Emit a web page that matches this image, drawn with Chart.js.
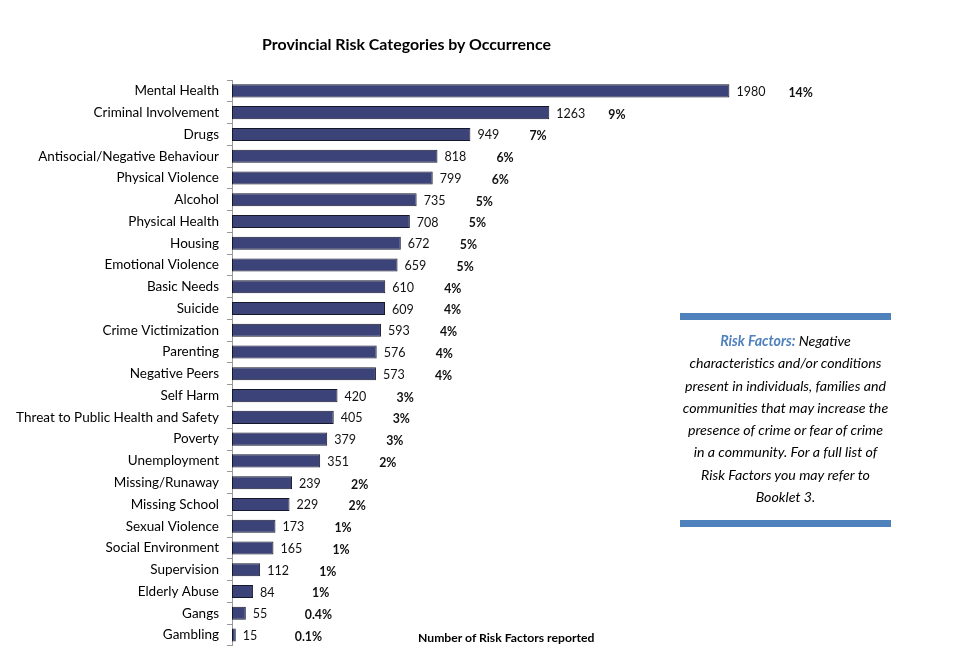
<!DOCTYPE html>
<html>
<head>
<meta charset="utf-8">
<script src="https://cdn.jsdelivr.net/npm/chart.js@4"></script>
<style>
  html, body { margin: 0; padding: 0; background: #fff; }
  #wrap { position: relative; width: 973px; height: 662px; overflow: hidden; }
  #title { position: absolute; left: 0; width: 813px; top: 34px; text-align: center;
           font: bold 15.9px Lato, sans-serif; color: #000; }
  #xtitle { position: absolute; left: 418px; top: 630px; font: bold 12.2px Lato, sans-serif; color: #000; white-space: nowrap; }
  #note { position: absolute; left: 680px; top: 313px; width: 211px; }
  #note .bar { height: 7px; background: #4f81bd; }
  #note .txt { text-align: center; font: italic 14.2px Lato, sans-serif; line-height: 22.3px; color: #000;
               padding-top: 10px; padding-bottom: 12px; white-space: nowrap; margin-left: -10px; margin-right: -10px; }
  #note .txt b { color: #4f81bd; font-weight: bold; }
</style>
</head>
<body>
<div id="wrap">
  <canvas id="c" width="973" height="662"></canvas>
  <div id="title">Provincial Risk Categories by Occurrence</div>
  <div id="xtitle">Number of Risk Factors reported</div>
  <div id="note">
    <div class="bar"></div>
    <div class="txt"><b>Risk Factors:</b> Negative<br>characteristics and/or conditions<br>present in individuals, families and<br>communities that may increase the<br>presence of crime or fear of crime<br>in a community. For a full list of<br>Risk Factors you may refer to<br>Booklet 3.</div>
    <div class="bar"></div>
  </div>
</div>
<script>
const categories = ["Mental Health","Criminal Involvement","Drugs","Antisocial/Negative Behaviour","Physical Violence","Alcohol","Physical Health","Housing","Emotional Violence","Basic Needs","Suicide","Crime Victimization","Parenting","Negative Peers","Self Harm","Threat to Public Health and Safety","Poverty","Unemployment","Missing/Runaway","Missing School","Sexual Violence","Social Environment","Supervision","Elderly Abuse","Gangs","Gambling"];
const counts = [1980,1263,949,818,799,735,708,672,659,610,609,593,576,573,420,405,379,351,239,229,173,165,112,84,55,15];
const percents = ["14%","9%","7%","6%","6%","5%","5%","5%","5%","4%","4%","4%","4%","4%","3%","3%","3%","2%","2%","2%","1%","1%","1%","1%","0.4%","0.1%"];

const labelPlugin = {
  id: 'barLabels',
  afterDatasetsDraw(chart) {
    const ctx = chart.ctx;
    const meta = chart.getDatasetMeta(0);
    ctx.save();
    ctx.textBaseline = 'middle';
    ctx.textAlign = 'left';
    meta.data.forEach((bar, i) => {
      ctx.fillStyle = '#111';
      ctx.font = '12.5px Lato, sans-serif';
      ctx.fillText(String(counts[i]), bar.x + 7, bar.y + 1);
      ctx.font = 'bold 12.3px Lato, sans-serif';
      ctx.fillText(percents[i], bar.x + 59, bar.y + 2);
    });
    ctx.restore();
  }
};

new Chart(document.getElementById('c'), {
  type: 'bar',
  data: {
    labels: categories,
    datasets: [{
      data: counts,
      backgroundColor: '#3c4378',
      borderColor: '#15172a',
      borderWidth: 1,
      borderSkipped: false,
      categoryPercentage: 1,
      barPercentage: 0.6
    }]
  },
  options: {
    indexAxis: 'y',
    responsive: false,
    animation: false,
    layout: { padding: { left: 0, right: 113, top: 80, bottom: 12 } },
    plugins: { legend: { display: false }, tooltip: { enabled: false } },
    scales: {
      x: { display: false, min: 0, max: 2500 },
      y: {
        afterFit(scale) { scale.width = 232; },
        grid: { drawOnChartArea: false, offset: true, tickLength: 5, color: '#999' },
        border: { color: '#999' },
        ticks: { padding: 8, color: '#000', font: { family: 'Lato', size: 13.5 } }
      }
    }
  },
  plugins: [labelPlugin]
});
</script>
</body>
</html>
